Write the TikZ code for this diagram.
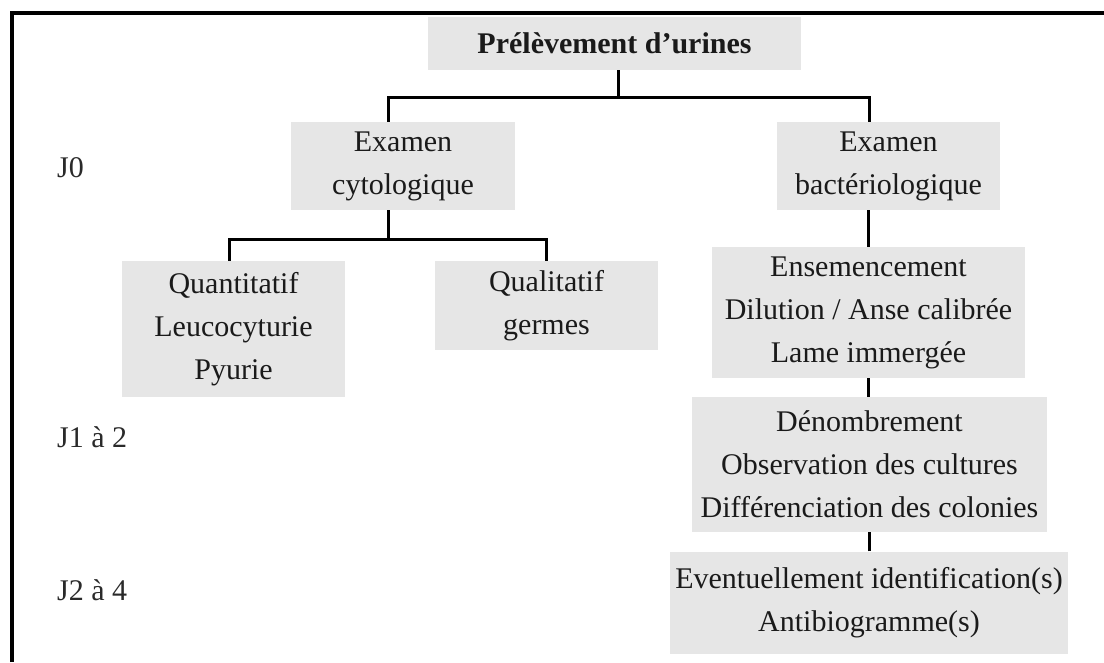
\documentclass[tikz,border=0pt]{standalone}
\usepackage{fontspec}
\setmainfont{Liberation Serif}
\definecolor{boxfill}{HTML}{E6E6E6}
\definecolor{txt}{HTML}{1A1A1A}
\definecolor{lbl}{HTML}{2A2A2A}
\begin{document}
\begin{tikzpicture}[x=1pt,y=-1pt,
  box/.style={fill=boxfill,inner sep=0pt,align=center,text=txt,font=\fontsize{30}{43}\selectfont},
  conn/.style={draw=black,line width=3pt},
  daylbl/.style={anchor=base west,inner sep=0pt,text=lbl,font=\fontsize{30}{36}\selectfont}]
\useasboundingbox (0,0) rectangle (1104,662);
\fill[white] (0,0) rectangle (1104,662);
\draw[line width=4pt] (12,662) -- (12,12.5) -- (1104,12.5);

\node[box,minimum width=373pt,minimum height=53pt,font=\bfseries\fontsize{30}{43}\selectfont] (top) at (614.5,43.5) {Prélèvement d’urines};
\node[box,minimum width=224pt,minimum height=88pt] (cyto) at (403,166) {Examen\\cytologique};
\node[box,minimum width=223pt,minimum height=88pt] (bact) at (888.5,166) {Examen\\bactériologique};
\node[box,minimum width=223pt,minimum height=136pt] (quant) at (233.5,329) {Quantitatif\\Leucocyturie\\Pyurie};
\node[box,minimum width=223pt,minimum height=89pt] (qual) at (546.5,305.5) {Qualitatif\\germes};
\node[box,minimum width=313pt,minimum height=131pt] (ens) at (868.5,312.5) {Ensemencement\\Dilution / Anse calibrée\\Lame immergée};
\node[box,minimum width=355pt,minimum height=135pt] (denom) at (869.5,464.5) {Dénombrement\\Observation des cultures\\Différenciation des colonies};
\node[box,minimum width=398pt,minimum height=102pt] (ev) at (869,602.5) {Eventuellement identification(s)\\Antibiogramme(s)};

\node[daylbl] (d0) at (57,177) {J0};
\node[daylbl] (d1) at (57,447) {J1 à 2};
\node[daylbl] (d2) at (57,600) {J2 à 4};

\coordinate (ja) at (618,97);
\draw[conn] ([xshift=3.5pt]top.south) -- (ja);
\draw[conn] ([xshift=-15pt]cyto.north) |- (ja) -| ([xshift=-19.5pt]bact.north);
\coordinate (jb) at (388,239);
\draw[conn] ([xshift=-15pt]cyto.south) -- (jb);
\draw[conn] ([xshift=-4.5pt]quant.north) |- (jb) -| (qual.north);
\draw[conn] (ens.north) -- (ens.north |- bact.south);
\draw[conn] (ens.south) -- (ens.south |- denom.north);
\draw[conn] (ev.north) -- (ev.north |- denom.south);
\end{tikzpicture}
\end{document}
